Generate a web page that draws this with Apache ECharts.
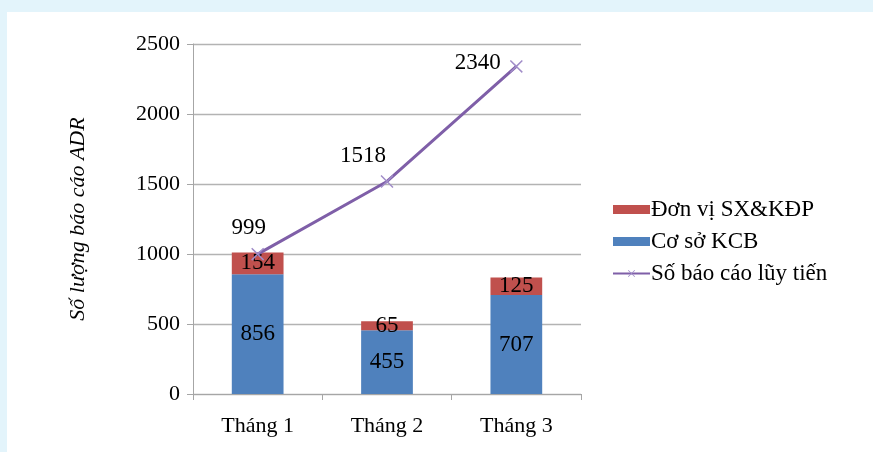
<!DOCTYPE html>
<html>
<head>
<meta charset="utf-8">
<script src="https://cdn.jsdelivr.net/npm/echarts@6/dist/echarts.min.js"></script>
<style>
  html, body { margin: 0; padding: 0; background: #e3f4fb; }
  #chart { position: absolute; left: 7px; top: 12px; width: 866px; height: 440px; background: #fff; }
</style>
</head>
<body>
<div id="chart"></div>
<script>
// du lieu doc tu hinh
const categories = ['Tháng 1', 'Tháng 2', 'Tháng 3']
const coSoKCB = [856, 455, 707]
const donViSX = [154, 65, 125]
const luyTien = [999, 1518, 2340]
const yTicks = [0, 500, 1000, 1500, 2000, 2500]

const serif = '"Liberation Serif", "DejaVu Serif", serif'
const chart = echarts.init(document.getElementById('chart'))

// vi tri nhan cua duong luy tien
const lineLabelPos = [
  { position: 'top', offset: [-9, -3] },
  { position: 'top', offset: [-24, -3] },
  { position: 'left', offset: [-4, -3] },
]

const crossPath = 'path://M0,0.8L0.8,0L5,4.2L9.2,0L10,0.8L5.8,5L10,9.2L9.2,10L5,5.8L0.8,10L0,9.2L4.2,5Z'

chart.setOption({
  animation: false,
  textStyle: { fontFamily: serif },
  grid: { left: 186, right: 292, top: 32, bottom: 58 },
  legend: {
    orient: 'vertical',
    left: 600,
    top: 181,
    itemGap: 9,
    itemWidth: 37,
    itemHeight: 9,
    textStyle: { fontFamily: serif, fontSize: 23, color: '#000', padding: [0, 0, 0, -4] },
    data: [
      { name: 'Đơn vị SX&KĐP', icon: 'rect' },
      { name: 'Cơ sở KCB', icon: 'rect' },
      { name: 'Số báo cáo lũy tiến' }
    ]
  },
  xAxis: {
    type: 'category',
    data: categories,
    axisLine: { lineStyle: { color: '#a6a6a6' } },
    axisTick: { show: true, length: 6, lineStyle: { color: '#a6a6a6' } },
    axisLabel: { fontFamily: serif, fontSize: 22, color: '#000', margin: 21 }
  },
  yAxis: {
    type: 'value',
    min: yTicks[0],
    max: yTicks[yTicks.length - 1],
    interval: 500,
    name: 'Số lượng báo cáo ADR',
    nameLocation: 'middle',
    nameGap: 104,
    nameTextStyle: { fontFamily: serif, fontStyle: 'italic', fontSize: 22, color: '#000' },
    axisLine: { show: true, lineStyle: { color: '#a6a6a6' } },
    axisTick: { show: true, length: 6, lineStyle: { color: '#a6a6a6' } },
    axisLabel: { fontFamily: serif, fontSize: 22, color: '#000', margin: 13, formatter: v => String(v) },
    splitLine: { lineStyle: { color: '#b3b3b3', width: 1.3 } }
  },
  series: [
    {
      name: 'Cơ sở KCB',
      type: 'bar',
      stack: 'tong',
      barWidth: '40%',
      data: coSoKCB,
      itemStyle: { color: '#4f81bd' },
      label: { show: true, position: 'inside', fontFamily: serif, fontSize: 23, color: '#000' }
    },
    {
      name: 'Đơn vị SX&KĐP',
      type: 'bar',
      stack: 'tong',
      data: donViSX,
      itemStyle: { color: '#c0504d' },
      label: { show: true, position: 'inside', fontFamily: serif, fontSize: 23, color: '#000' }
    },
    {
      name: 'Số báo cáo lũy tiến',
      type: 'line',
      data: luyTien.map((v, i) => ({ value: v, label: lineLabelPos[i] })),
      symbol: crossPath,
      symbolSize: 13,
      lineStyle: { color: '#7f5fa8', width: 3 },
      itemStyle: { color: '#a08cc8' },
      label: { show: true, fontFamily: serif, fontSize: 23, color: '#000' },
      z: 5
    }
  ]
})
</script>
</body>
</html>
